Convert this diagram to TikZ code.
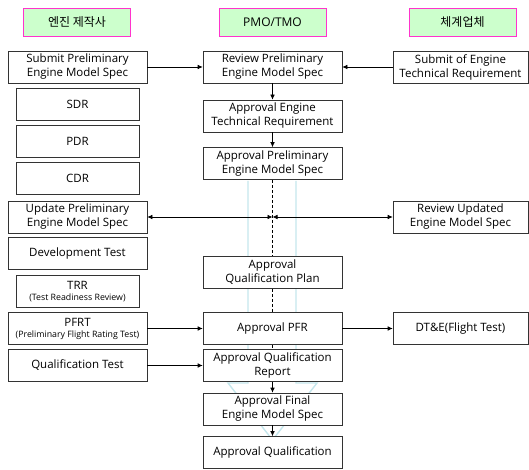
\documentclass[tikz,border=0pt]{standalone}
\usepackage{fontspec}
\setmainfont{Open Sans}
\newfontfamily\krfont{Noto Sans CJK KR}
\usetikzlibrary{arrows.meta}
\definecolor{hdrfill}{RGB}{204,255,204}
\definecolor{hdrline}{RGB}{255,51,204}
\definecolor{bgarrow}{RGB}{196,230,236}
\tikzset{
  box/.style={draw=black!80, line width=0.6pt, fill=white, align=center, inner sep=1pt,
    font=\fontsize{11.5}{14}\selectfont, minimum height=32pt},
  wide/.style={box, minimum width=139pt},
  narrow/.style={box, minimum width=123pt},
  rbox/.style={box, minimum width=135pt},
  hdr/.style={draw=hdrline, line width=0.8pt, fill=hdrfill, minimum width=107pt, minimum height=28pt,
    font=\fontsize{12}{13}\selectfont},
  conn/.style={line width=0.6pt, -{Latex[length=5pt,width=4.5pt]}},
  dconn/.style={line width=0.6pt, {Latex[length=5pt,width=4.5pt]}-{Latex[length=5pt,width=4.5pt]}},
  dashline/.style={line width=0.6pt, dash pattern=on 3pt off 2pt}
}
\newcommand{\smalltxt}[1]{{\fontsize{8.8}{10}\selectfont #1}}
\begin{document}
\begin{tikzpicture}[x=1pt,y=-1pt]
\useasboundingbox (0,0) rectangle (529,470);
% background arrow
\draw[bgarrow, line width=1.4pt, line join=miter] (248,181) -- (248,383) -- (228,383) -- (272.5,440) -- (317,383) -- (296,383) -- (296,181);
% headers
\node[hdr] (h1) at (77,22) {\krfont 엔진 제작사};
\node[hdr] (h2) at (272.5,22) {PMO/TMO};
\node[hdr] (h3) at (462.5,22) {\krfont 체계업체};
% left column
\node[wide] (l1) at (77.5,67) {Submit Preliminary\\Engine Model Spec};
\node[narrow] (sdr) at (77.5,104.5) {SDR};
\node[narrow] (pdr) at (77.5,141.5) {PDR};
\node[narrow] (cdr) at (77.5,178.5) {CDR};
\node[wide] (upd) at (77.5,217) {Update Preliminary\\Engine Model Spec};
\node[wide] (dev) at (77.5,253.5) {Development Test};
\node[narrow] (trr) at (77.5,291.5) {TRR\\[-3pt]\smalltxt{(Test Readiness Review)}};
\node[wide] (pfrt) at (77.5,328.5) {PFRT\\[-3pt]\smalltxt{(Preliminary Flight Rating Test)}};
\node[wide] (qt) at (77.5,365.5) {Qualification Test};
% middle column
\node[wide] (m1) at (272.5,67) {Review Preliminary\\Engine Model Spec};
\node[wide] (m2) at (272.5,116) {Approval Engine\\Technical Requirement};
\node[wide] (m3) at (272.5,163.5) {Approval Preliminary\\Engine Model Spec};
\node[wide] (m4) at (272.5,272.5) {Approval\\Qualification Plan};
\node[wide] (m5) at (272.5,328.5) {Approval PFR};
\node[wide] (m6) at (272.5,365.5) {Approval Qualification\\Report};
\node[wide] (m7) at (272.5,409) {Approval Final\\Engine Model Spec};
\node[wide] (m8) at (272.5,452.5) {Approval Qualification};
% right column
\node[rbox] (r1) at (460.5,67) {Submit of Engine\\Technical Requirement};
\node[rbox] (r2) at (460.5,217) {Review Updated\\Engine Model Spec};
\node[rbox] (r3) at (460.5,328.5) {DT\&E(Flight Test)};
% junction
\coordinate (j) at (272.5,217);
% connectors
\draw[conn] (l1) -- (m1);
\draw[conn] (r1) -- (m1);
\draw[conn] (m1) -- (m2);
\draw[conn] (m2) -- (m3);
\draw[dashline] (m3) -- (m4);
\draw[dashline] (m4) -- (m5);
\draw[dashline] (m5) -- (m6);
\draw[conn] (m6) -- (m7);
\draw[conn] (m7) -- (m8);
\draw[dconn] (upd) -- (j);
\draw[dconn] (j) -- (r2);
\draw[conn] (pfrt) -- (m5);
\draw[conn] (m5) -- (r3);
\draw[conn] (qt) -- (m6);
\end{tikzpicture}
\end{document}
